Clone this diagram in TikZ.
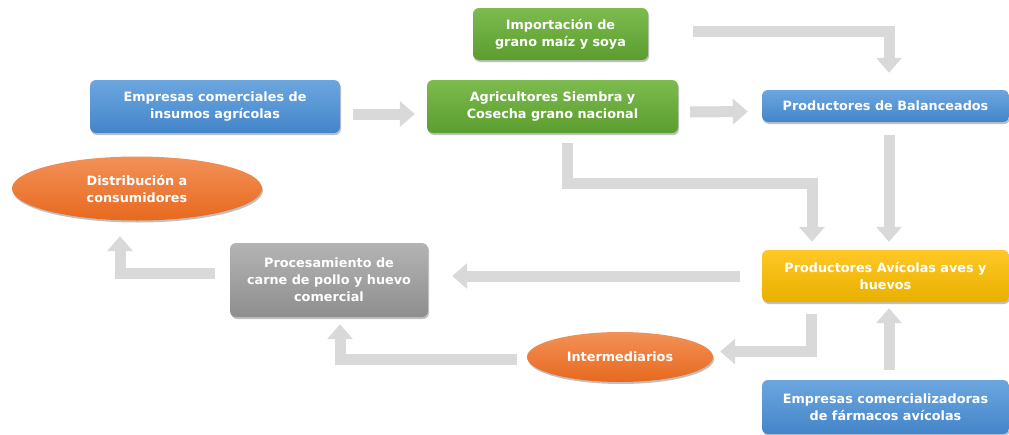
\documentclass[tikz,border=0pt]{standalone}
\usepackage{fontspec}
\setmainfont{DejaVu Sans}
\usetikzlibrary{arrows.meta,shapes.geometric,shadows,calc}
\definecolor{bluetop}{HTML}{6CA6DF}
\definecolor{bluebot}{HTML}{4385CA}
\definecolor{greentop}{HTML}{7DBB4F}
\definecolor{greenbot}{HTML}{5B9D2F}
\definecolor{graytop}{HTML}{B4B4B4}
\definecolor{graybot}{HTML}{8E8E8E}
\definecolor{yellowtop}{HTML}{FFC825}
\definecolor{yellowbot}{HTML}{E9B000}
\definecolor{orangetop}{HTML}{F29158}
\definecolor{orangebot}{HTML}{E8691E}
\definecolor{arrowgray}{HTML}{D9D9D9}
\begin{document}
\begin{tikzpicture}[x=1pt,y=-1pt,
  base/.style={text=white, font=\bfseries\fontsize{12.8}{17}\selectfont, align=center, inner sep=0pt,
    drop shadow={shadow xshift=1pt, shadow yshift=-2pt, opacity=0.35, fill=black!70}},
  box/.style={base, rectangle, rounded corners=6pt},
  oval/.style={base, ellipse, top color=orangetop, bottom color=orangebot},
  bluebox/.style={box, top color=bluetop, bottom color=bluebot},
  greenbox/.style={box, top color=greentop, bottom color=greenbot},
  graybox/.style={box, top color=graytop, bottom color=graybot},
  yellowbox/.style={box, top color=yellowtop, bottom color=yellowbot},
  flow/.style={draw=arrowgray, line width=11pt, line join=miter, line cap=butt,
    -{Triangle[width=25pt,length=15pt]}}
]
\useasboundingbox[fill=white] (0,0) rectangle (1009,434);

\node[greenbox, minimum width=175pt, minimum height=52pt] (imp) at (560.5,34) {Importación de\\grano maíz y soya};
\node[bluebox, minimum width=250pt, minimum height=53pt] (emp) at (215,106.5) {Empresas comerciales de\\insumos agrícolas};
\node[greenbox, minimum width=251pt, minimum height=53pt] (agr) at (552.5,106.5) {Agricultores Siembra y\\Cosecha grano nacional};
\node[bluebox, minimum width=247pt, minimum height=32pt] (bal) at (885.5,106) {Productores de Balanceados};
\node[oval, minimum width=250pt, minimum height=64pt] (dist) at (137,188.5) {Distribución a\\consumidores};
\node[graybox, minimum width=198pt, minimum height=74pt] (proc) at (329,280) {Procesamiento de\\carne de pollo y huevo\\comercial};
\node[yellowbox, minimum width=247pt, minimum height=52pt] (avi) at (885.5,276) {Productores Avícolas aves y\\huevos};
\node[oval, minimum width=186pt, minimum height=50pt] (inter) at (620,357) {Intermediarios};
\node[bluebox, minimum width=247pt, minimum height=54pt] (com) at (885.5,407) {Empresas comercializadoras\\de fármacos avícolas};

\coordinate (k4) at (812,183);

\draw[flow, shorten >=17pt] ([xshift=45pt,yshift=2.5pt]imp.east) -| ([xshift=3.5pt]bal.north);
\draw[flow, shorten <=13pt, shorten >=12pt] ([yshift=-7.5pt]emp.east) -- ([yshift=-7.5pt]agr.west);
\draw[flow, shorten <=12pt, shorten >=14pt] ([yshift=-5.5pt]agr.east) -- ([yshift=-5.5pt]bal.west);
\draw[flow, shorten <=10pt, shorten >=8pt] ([xshift=14.5pt]agr.south) |- (k4) -- (k4 |- avi.north);
\draw[flow, shorten <=13pt, shorten >=8pt] ([xshift=3.5pt]bal.south) -- ([xshift=3.5pt]avi.north);
\draw[flow, shorten <=22pt, shorten >=24pt] (avi.west) -- (proc.east |- avi.west);
\draw[flow, shorten <=15pt, shorten >=15.5pt] ([yshift=7pt]proc.west) -| ([xshift=-17pt]dist.south);
\draw[flow, shorten <=12pt, shorten >=7pt] ([xshift=-74.5pt]avi.south) |- ([yshift=5.5pt]inter.east);
\draw[flow, shorten <=10pt, shorten >=7pt] ([yshift=-2.5pt]inter.west) -| ([xshift=11pt]proc.south);
\draw[flow, shorten <=10pt, shorten >=6pt] ([xshift=3.5pt]com.north) -- ([xshift=3.5pt]avi.south);
\end{tikzpicture}
\end{document}
